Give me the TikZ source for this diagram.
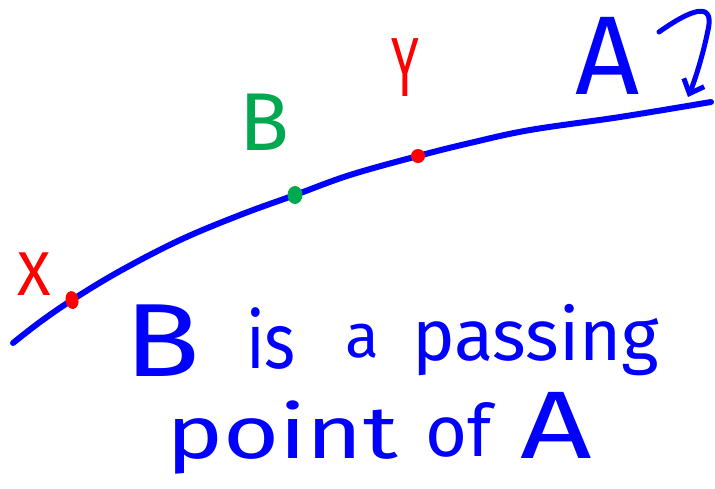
\documentclass[tikz,border=0pt]{standalone}
\usepackage{fontspec}
\setmainfont{Fira Sans}
\usetikzlibrary{arrows.meta}
\definecolor{penblue}{RGB}{0,0,255}
\definecolor{penred}{RGB}{255,0,0}
\definecolor{pengreen}{RGB}{0,168,80}
\tikzset{
  ink/.style={line width=6pt, line cap=round, line join=round},
  word/.style={inner sep=0pt, anchor=base west, text=penblue},
  lbl/.style={inner sep=0pt, anchor=center},
}
\begin{document}
\begin{tikzpicture}[x=1pt,y=-1pt]
\useasboundingbox[fill=white] (0,0) rectangle (715,488);
% points on the line
\coordinate (s) at (13,343);
\coordinate (e) at (711,102);
\coordinate (px) at (72,300);
\coordinate (pb) at (295,195);
\coordinate (py) at (418,156);
\draw[ink, penblue] plot[smooth, tension=0.6] coordinates {(s) (40,322) (px) (120,271) (180,240) (240,215) (pb) (350,175) (py) (470,143) (530,130) (620,117) (e)};
% dots
\fill[penred, rotate around={10:(px)}] (px) ellipse (6.5pt and 9pt);
\fill[pengreen] (pb) ellipse (7.5pt and 9pt);
\fill[penred] (py) ellipse (7pt and 7pt);
% labels
\node[lbl, text=penred, font=\fontsize{62}{62}\selectfont] (lx) at (34,274) {X};
\node[lbl, text=penred, font=\fontsize{84}{84}\selectfont, xscale=0.6] (ly) at (405,68) {Y};
\node[lbl, text=pengreen, font=\fontsize{82}{82}\selectfont] (lb) at (264,122) {B};
\node[lbl, text=penblue, font=\fontsize{112}{112}\selectfont] (la) at (608,56) {A};
% arrow to the line
\coordinate (a0) at (659,32);
\coordinate (a1) at (688,97);
\draw[ink, line width=5pt, penblue, -{Straight Barb[length=12pt,width=22pt]}] (a0) .. controls (690,10) and (715,0) .. (708,30) .. controls (703,55) and (695,80) .. (a1);
% sentence
\node[word, font=\fontsize{104}{104}\selectfont, xscale=1.2] (w1) at (124,376) {B};
\node[word, font=\fontsize{78}{78}\selectfont, xscale=0.85] (w2) at (246,368) {is};
\node[word, font=\fontsize{62}{62}\selectfont] (w3) at (345,357) {a};
\node[word, font=\fontsize{72}{72}\selectfont] (w4) at (412,360) {passing};
\node[word, font=\fontsize{74}{74}\selectfont, xscale=1.3] (w5) at (166,458) {point};
\node[word, font=\fontsize{72}{72}\selectfont] (w6) at (425,456) {of};
\node[word, font=\fontsize{96}{96}\selectfont, xscale=1.3] (w7) at (520,458) {A};
\end{tikzpicture}
\end{document}
